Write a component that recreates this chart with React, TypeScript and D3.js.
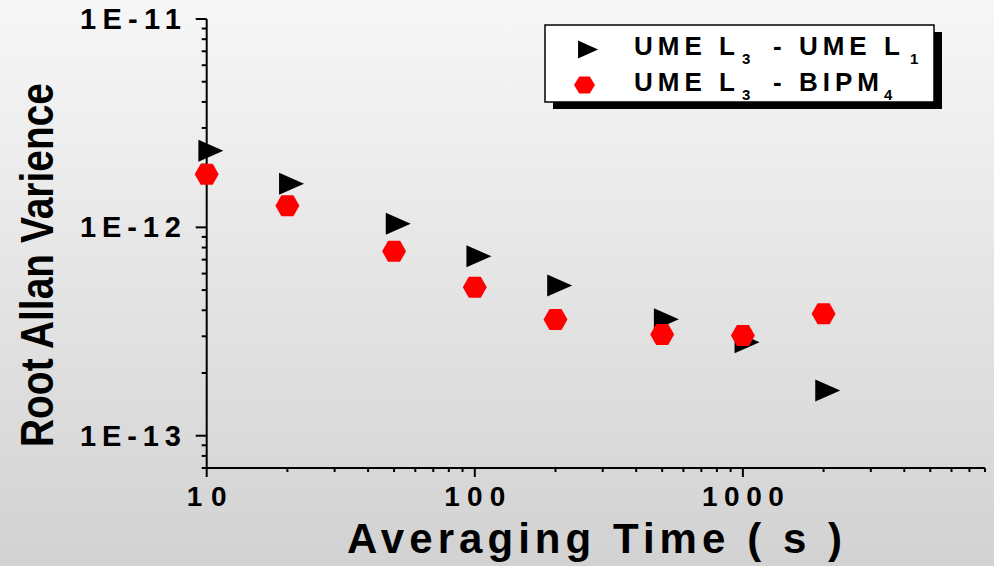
import * as d3 from "d3";

// averaging time (s) and root Allan variance
const averagingTimes = [10, 20, 50, 100, 200, 500, 1000, 2000];
const umeL3minusUmeL1 = [2.33e-12, 1.62e-12, 1.04e-12, 7.26e-13, 5.26e-13, 3.62e-13, 2.81e-13, 1.65e-13];
const umeL3minusBipm4 = [1.8e-12, 1.27e-12, 7.68e-13, 5.16e-13, 3.61e-13, 3.06e-13, 3.03e-13, 3.85e-13];

const xMajorTicks = [10, 100, 1000];
const xTickLabels = ["10", "100", "1000"];
const yMajorTicks = [1e-13, 1e-12, 1e-11];
const yTickLabels = ["1E-13", "1E-12", "1E-11"];

const width = 994,
    height = 566;
const font = "'Liberation Sans', Arial, sans-serif";

const x = d3.scaleLog().domain([10, 8000]).range([206.7, 985]);
const y = d3.scaleLog().domain([7e-14, 1e-11]).range([468, 19]);

// right pointing triangle, centroid on the point
const triangle = (w: number, h: number) =>
    `M${-w / 3},${-h / 2}L${(2 * w) / 3},0L${-w / 3},${h / 2}Z`;
// flat top hexagon
const hexagon = (w: number, h: number) =>
    `M${-w / 2},0L${-w / 4},${-h / 2}L${w / 4},${-h / 2}L${w / 2},0L${w / 4},${h / 2}L${-w / 4},${h / 2}Z`;

const subShift = 9;

export default function App() {
    const x0 = x.range()[0];
    const y0 = y.range()[0];

    return (
        <div style={{ position: "absolute", left: 0, top: 0 }}>
            <svg width={width} height={height} style={{ display: "block" }}>
                <defs>
                    <linearGradient id="bg" x1="0" y1="0" x2="0" y2="1">
                        <stop offset="0%" stopColor="#f7f7f7" />
                        <stop offset="100%" stopColor="#d2d2d2" />
                    </linearGradient>
                </defs>
                <rect x={0} y={0} width={width} height={height} fill="url(#bg)" />

                {/* axes */}
                <g stroke="#000" strokeWidth={2} fill="none">
                    <line x1={x0} x2={x.range()[1]} y1={y0} y2={y0} />
                    <line x1={x0} x2={x0} y1={y0} y2={y.range()[1]} />
                    {x.ticks().map((t, i) => {
                        const major = xMajorTicks.includes(t);
                        return <line key={"xt" + i} x1={x(t)} x2={x(t)} y1={y0} y2={y0 + (major ? 9 : 4)} />;
                    })}
                    <line x1={x.range()[1]} x2={x.range()[1]} y1={y0} y2={y0 + 4} />
                    {y.ticks().map((t, i) => {
                        const major = yMajorTicks.some((m) => Math.abs(m - t) / m < 1e-6);
                        return <line key={"yt" + i} x1={x0} x2={x0 - (major ? 11 : 5)} y1={y(t)} y2={y(t)} />;
                    })}
                </g>

                <g fontFamily={font} fontWeight="bold" fill="#000">
                    {xMajorTicks.map((t, i) => (
                        <text
                            key={"xl" + i}
                            x={x(t)}
                            y={506}
                            fontSize={28}
                            textAnchor="middle"
                            textLength={xTickLabels[i].length * 21 - 2}
                            lengthAdjust="spacing"
                        >
                            {xTickLabels[i]}
                        </text>
                    ))}
                    {yMajorTicks.map((t, i) => (
                        <text
                            key={"yl" + i}
                            x={80}
                            y={y(t) + 10}
                            fontSize={29}
                            textLength={101}
                            lengthAdjust="spacing"
                        >
                            {yTickLabels[i]}
                        </text>
                    ))}
                    <text x={347} y={553} fontSize={42} textLength={495} lengthAdjust="spacing">
                        Averaging Time ( s )
                    </text>
                    <text
                        transform="translate(53,447) rotate(-90)"
                        fontSize={46}
                        textLength={364}
                        lengthAdjust="spacingAndGlyphs"
                    >
                        Root Allan Varience
                    </text>
                </g>

                {/* data */}
                <g fill="#000">
                    {averagingTimes.map((t, i) => (
                        <path
                            key={"a" + i}
                            d={triangle(25, 22)}
                            transform={`translate(${x(t)},${y(umeL3minusUmeL1[i])})`}
                        />
                    ))}
                </g>
                <g fill="#ff0000">
                    {averagingTimes.map((t, i) => (
                        <path
                            key={"b" + i}
                            d={hexagon(24, 21)}
                            transform={`translate(${x(t)},${y(umeL3minusBipm4[i])})`}
                        />
                    ))}
                </g>

                {/* legend */}
                <g>
                    <rect x={553} y={32} width={389} height={77} fill="#000" />
                    <rect x={545} y={25} width={389} height={77} fill="#fff" stroke="#000" strokeWidth={1.5} />
                    <path d={triangle(20, 18)} transform="translate(584.7,49.5)" fill="#000" />
                    <path d={hexagon(21, 17)} transform="translate(584.5,85)" fill="#ff0000" />
                    <g fontFamily={font} fontWeight="bold" fill="#000" letterSpacing={5}>
                        <text y={55} fontSize={26}>
                            <tspan x={634}>UME L</tspan>
                            <tspan x={742} dy={subShift} fontSize={15} letterSpacing={0}>3</tspan>
                            <tspan x={773} dy={-subShift}>- UME L</tspan>
                            <tspan x={910} dy={subShift} fontSize={15} letterSpacing={0}>1</tspan>
                        </text>
                        <text y={91} fontSize={26}>
                            <tspan x={634}>UME L</tspan>
                            <tspan x={742} dy={subShift} fontSize={15} letterSpacing={0}>3</tspan>
                            <tspan x={773} dy={-subShift}>- BIPM</tspan>
                            <tspan x={884} dy={subShift} fontSize={15} letterSpacing={0}>4</tspan>
                        </text>
                    </g>
                </g>
            </svg>
        </div>
    );
}
